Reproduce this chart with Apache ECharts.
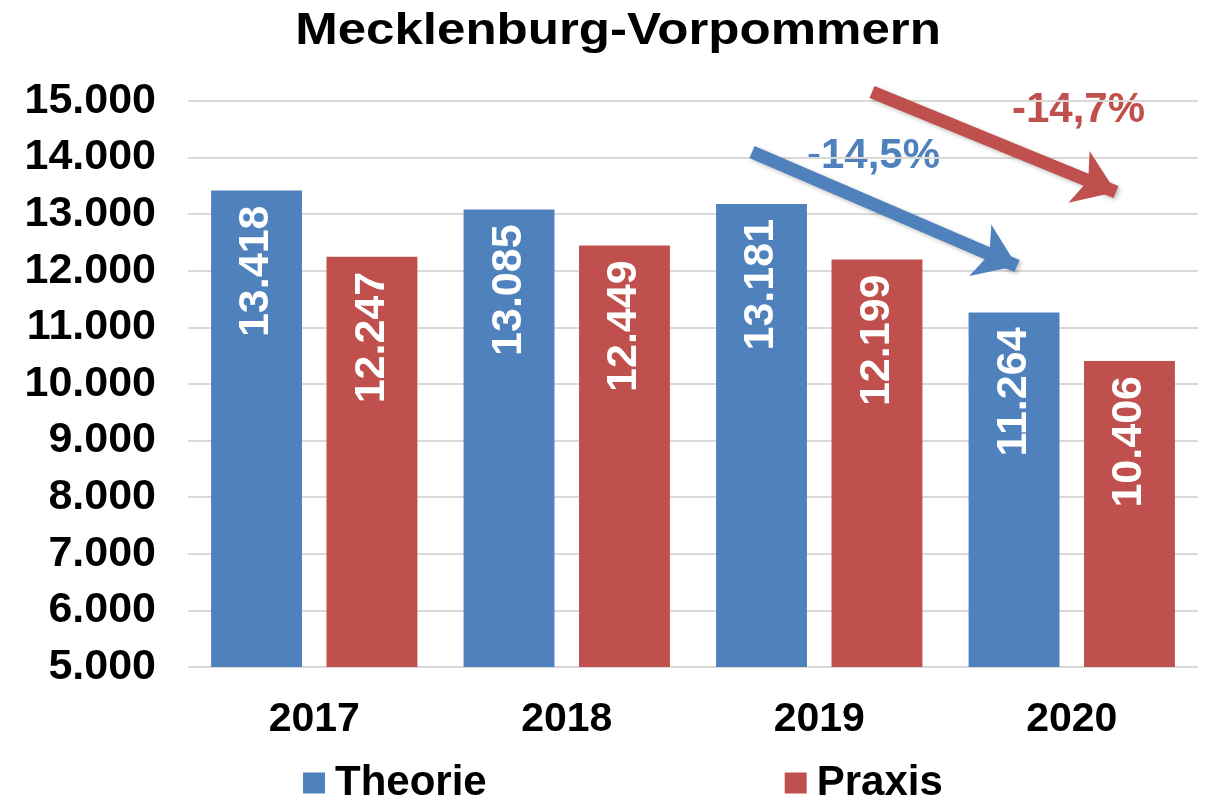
<!DOCTYPE html>
<html>
<head>
<meta charset="utf-8">
<script src="https://cdn.jsdelivr.net/npm/echarts@6/dist/echarts.min.js"></script>
<style>html,body{margin:0;padding:0;background:#fff;}#c{width:1209px;height:801px;}</style>
</head>
<body>
<div id="c"></div>
<script>
const title = 'Mecklenburg-Vorpommern';
const categories = ['2017', '2018', '2019', '2020'];
const theorie = [13418, 13085, 13181, 11264];
const praxis = [12247, 12449, 12199, 10406];
const seriesNames = ['Theorie', 'Praxis'];
const changeLabels = ['-14,5%', '-14,7%'];
const yMin = 5000, yMax = 15000, yStep = 1000;

const BLUE = '#4F81BD', RED = '#C0504D';
const FONT = 'Liberation Sans, Arial, sans-serif';

const fmt = v => v.toLocaleString('de-DE');

const chart = echarts.init(document.getElementById('c'), null, {renderer: 'canvas'});

const barLabel = {
  show: true,
  position: 'insideTop',
  rotate: 90,
  align: 'right',
  verticalAlign: 'middle',
  distance: 15,
  color: '#fff',
  fontFamily: FONT,
  fontWeight: 'bold',
  fontSize: 43,
  formatter: p => fmt(p.value)
};

function arrowLine(color, from, to) {
  return {
    silent: true,
    symbol: ['none', 'arrow'],
    symbolSize: [42, 40],
    label: {show: false},
    lineStyle: {color: color, width: 13, type: 'solid', opacity: 1,
      shadowColor: 'rgba(0,0,0,0.25)', shadowBlur: 4, shadowOffsetX: 2, shadowOffsetY: 2},
    emphasis: {disabled: true},
    data: [[{x: from[0], y: from[1]}, {x: to[0], y: to[1]}]]
  };
}

chart.setOption({
  animation: false,
  backgroundColor: '#fff',
  legend: {
    data: seriesNames,
    bottom: -8,
    left: 298,
    itemWidth: 22,
    itemHeight: 21,
    itemGap: 298,
    icon: 'rect',
    textStyle: {fontFamily: FONT, fontWeight: 'bold', fontSize: 42, color: '#000', padding: [0, 0, 0, 5]}
  },
  grid: {left: 188, right: 11, top: 101, bottom: 134, containLabel: false},
  xAxis: {
    type: 'category',
    data: categories,
    axisLine: {show: false},
    axisTick: {show: false},
    axisLabel: {margin: 32, fontFamily: FONT, fontWeight: 'bold', fontSize: 41, color: '#000'}
  },
  yAxis: {
    type: 'value',
    min: yMin,
    max: yMax,
    interval: yStep,
    axisLine: {show: false},
    axisTick: {show: false},
    splitLine: {lineStyle: {color: '#d9d9d9', width: 2}},
    axisLabel: {margin: 32, fontFamily: FONT, fontWeight: 'bold', fontSize: 43, color: '#000',
      formatter: v => fmt(v)}
  },
  series: [
    {name: seriesNames[0], type: 'bar', data: theorie, barWidth: '36%', barGap: '27%',
      itemStyle: {color: BLUE}, label: barLabel,
      markLine: arrowLine(BLUE, [752, 152], [1017, 266])},
    {name: seriesNames[1], type: 'bar', data: praxis, barWidth: '36%', barGap: '27%',
      itemStyle: {color: RED}, label: barLabel,
      markLine: arrowLine(RED, [872, 92], [1116, 192])}
  ],
  graphic: [
    {type: 'text', x: 618, y: 10, scaleX: 1.16, silent: true,
      style: {text: title, fill: '#000', font: 'bold 44px ' + FONT, align: 'center', verticalAlign: 'top'}},
    {type: 'text', left: 807, top: 135, silent: true,
      style: {text: changeLabels[0], fill: BLUE, font: 'bold 42px ' + FONT}},
    {type: 'text', left: 1012, top: 89, silent: true,
      style: {text: changeLabels[1], fill: RED, font: 'bold 42px ' + FONT}}
  ]
});
</script>
</body>
</html>
